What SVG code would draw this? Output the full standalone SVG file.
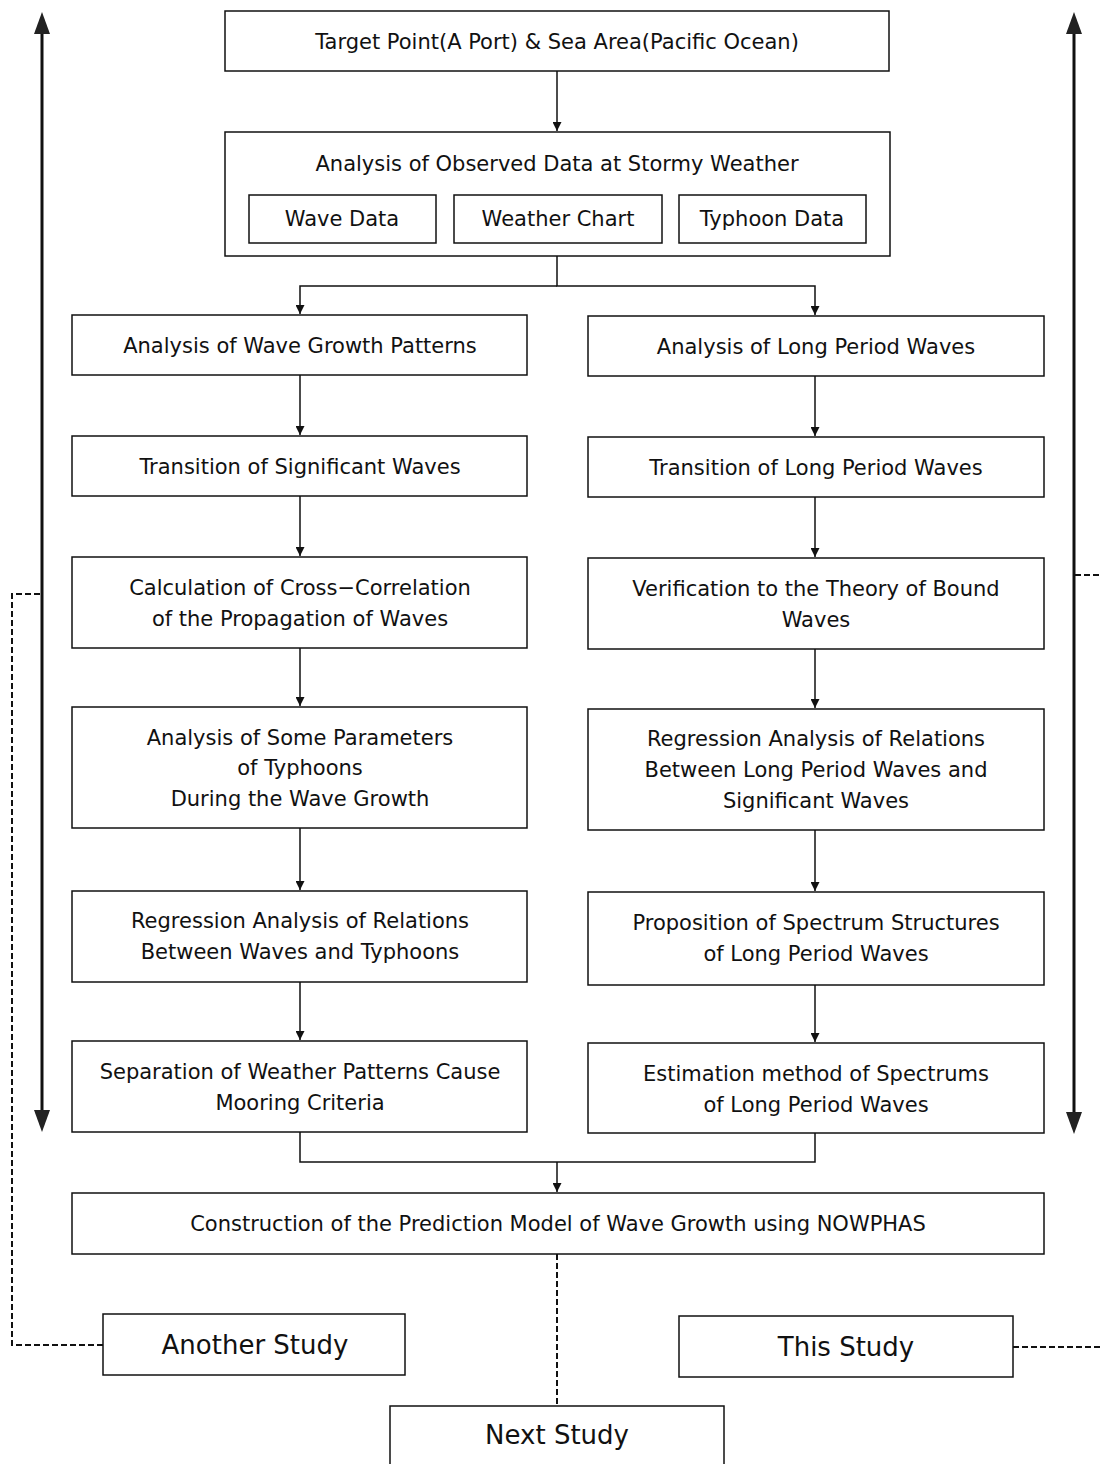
<svg xmlns="http://www.w3.org/2000/svg" width="1100" height="1464" viewBox="0 0 1100 1464">
<defs>
<marker id="ah" viewBox="0 0 10 10" refX="10" refY="5" markerWidth="9" markerHeight="9" markerUnits="userSpaceOnUse" orient="auto"><path d="M0,0 L10,5 L0,10 Z" fill="#111"/></marker>
</defs>
<style>
.b{fill:#fff;stroke:#111;stroke-width:1.5}
.t{font-family:"DejaVu Sans","Noto Sans CJK JP",sans-serif;font-size:21px;fill:#111;text-anchor:middle}
.tl{font-family:"DejaVu Sans","Noto Sans CJK JP",sans-serif;font-size:26px;fill:#111;text-anchor:middle}
.c{fill:none;stroke:#111;stroke-width:1.5}
.d{fill:none;stroke:#111;stroke-width:2;stroke-dasharray:6,3}
.big{fill:none;stroke:#111;stroke-width:3}
</style>
<g id="connectors">
<path class="c" d="M557,71 V131" marker-end="url(#ah)"/>
<path class="c" d="M557,256 V286 H815 V315" marker-end="url(#ah)"/>
<path class="c" d="M557,286 H300 V314" marker-end="url(#ah)"/>
<path class="c" d="M300,375 V435" marker-end="url(#ah)"/>
<path class="c" d="M300,496 V556" marker-end="url(#ah)"/>
<path class="c" d="M300,648 V706" marker-end="url(#ah)"/>
<path class="c" d="M300,828 V890" marker-end="url(#ah)"/>
<path class="c" d="M300,982 V1040" marker-end="url(#ah)"/>
<path class="c" d="M815,376 V436" marker-end="url(#ah)"/>
<path class="c" d="M815,497 V557" marker-end="url(#ah)"/>
<path class="c" d="M815,649 V708" marker-end="url(#ah)"/>
<path class="c" d="M815,830 V891" marker-end="url(#ah)"/>
<path class="c" d="M815,985 V1042" marker-end="url(#ah)"/>
<path class="c" d="M300,1132 V1162 H815 V1133"/>
<path class="c" d="M557,1162 V1192" marker-end="url(#ah)"/>
<path class="d" d="M557,1254 V1406"/>
<path class="d" d="M103,1345 H12 V594 H42"/>
<path class="d" d="M1013,1347 H1100"/>
<path class="d" d="M1075,575 H1100"/>
<line class="big" x1="42" y1="32" x2="42" y2="1110"/>
<path d="M42,12 L34,34 L50,34 Z" fill="#222"/>
<path d="M42,1132 L34,1110 L50,1110 Z" fill="#222"/>
<line class="big" x1="1074" y1="32" x2="1074" y2="1112"/>
<path d="M1074,12 L1066,34 L1082,34 Z" fill="#222"/>
<path d="M1074,1134 L1066,1112 L1082,1112 Z" fill="#222"/>
</g>
<g id="n1"><rect class="b" x="225" y="11" width="664" height="60"/><text class="t" x="557" y="49">Target Point(A Port) &amp; Sea Area(Pacific Ocean)</text></g>
<g id="n2"><rect class="b" x="225" y="132" width="665" height="124"/><text class="t" x="557" y="171">Analysis of Observed Data at Stormy Weather</text>
<g id="n2a"><rect class="b" x="249" y="195" width="187" height="48"/><text class="t" x="342" y="226">Wave Data</text></g>
<g id="n2b"><rect class="b" x="454" y="195" width="208" height="48"/><text class="t" x="558" y="226">Weather Chart</text></g>
<g id="n2c"><rect class="b" x="679" y="195" width="187" height="48"/><text class="t" x="772" y="226">Typhoon Data</text></g>
</g>
<g id="l1"><rect class="b" x="72" y="315" width="455" height="60"/><text class="t" x="300" y="353">Analysis of Wave Growth Patterns</text></g>
<g id="l2"><rect class="b" x="72" y="436" width="455" height="60"/><text class="t" x="300" y="474">Transition of Significant Waves</text></g>
<g id="l3"><rect class="b" x="72" y="557" width="455" height="91"/><text class="t" x="300" y="595">Calculation of Cross−Correlation</text><text class="t" x="300" y="626">of the Propagation of Waves</text></g>
<g id="l4"><rect class="b" x="72" y="707" width="455" height="121"/><text class="t" x="300" y="745">Analysis of Some Parameters</text><text class="t" x="300" y="775">of Typhoons</text><text class="t" x="300" y="806">During the Wave Growth</text></g>
<g id="l5"><rect class="b" x="72" y="891" width="455" height="91"/><text class="t" x="300" y="928">Regression Analysis of Relations</text><text class="t" x="300" y="959">Between Waves and Typhoons</text></g>
<g id="l6"><rect class="b" x="72" y="1041" width="455" height="91"/><text class="t" x="300" y="1079">Separation of Weather Patterns Cause</text><text class="t" x="300" y="1110">Mooring Criteria</text></g>
<g id="r1"><rect class="b" x="588" y="316" width="456" height="60"/><text class="t" x="816" y="354">Analysis of Long Period Waves</text></g>
<g id="r2"><rect class="b" x="588" y="437" width="456" height="60"/><text class="t" x="816" y="475">Transition of Long Period Waves</text></g>
<g id="r3"><rect class="b" x="588" y="558" width="456" height="91"/><text class="t" x="816" y="596">Verification to the Theory of Bound</text><text class="t" x="816" y="627">Waves</text></g>
<g id="r4"><rect class="b" x="588" y="709" width="456" height="121"/><text class="t" x="816" y="746">Regression Analysis of Relations</text><text class="t" x="816" y="777">Between Long Period Waves and</text><text class="t" x="816" y="808">Significant Waves</text></g>
<g id="r5"><rect class="b" x="588" y="892" width="456" height="93"/><text class="t" x="816" y="930">Proposition of Spectrum Structures</text><text class="t" x="816" y="961">of Long Period Waves</text></g>
<g id="r6"><rect class="b" x="588" y="1043" width="456" height="90"/><text class="t" x="816" y="1081">Estimation method of Spectrums</text><text class="t" x="816" y="1112">of Long Period Waves</text></g>
<g id="n3"><rect class="b" x="72" y="1193" width="972" height="61"/><text class="t" x="558" y="1231">Construction of the Prediction Model of Wave Growth using NOWPHAS</text></g>
<g id="s1"><rect class="b" x="103" y="1314" width="302" height="61"/><text class="tl" x="255" y="1354">Another Study</text></g>
<g id="s2"><rect class="b" x="679" y="1316" width="334" height="61"/><text class="tl" x="846" y="1356">This Study</text></g>
<g id="s3"><rect class="b" x="390" y="1406" width="334" height="70"/><text class="tl" x="557" y="1444">Next Study</text></g>
</svg>
